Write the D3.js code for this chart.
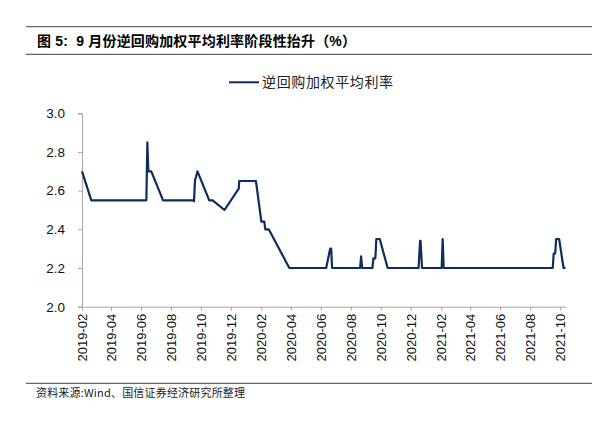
<!DOCTYPE html>
<html>
<head>
<meta charset="utf-8">
<script src="https://cdn.jsdelivr.net/npm/d3@7"></script>
<style>
  html, body { margin: 0; padding: 0; background: #fff; }
  svg { display: block; }
</style>
</head>
<body>
<svg id="chart" width="608" height="422"></svg>
<script>
const titleText = "图 5:  9 月份逆回购加权平均利率阶段性抬升（%）";
const seriesName = "逆回购加权平均利率";
const sourceText = "资料来源:Wind、国信证券经济研究所整理";

const dates = [
  "2019-02-01","2019-02-20","2019-06-12","2019-06-14","2019-06-16","2019-06-22",
  "2019-07-16","2019-09-15","2019-09-17","2019-09-19","2019-09-21","2019-09-24",
  "2019-10-18","2019-10-25","2019-11-18","2019-12-17","2019-12-18","2020-01-21",
  "2020-02-01","2020-02-07","2020-02-09","2020-02-16","2020-03-29","2020-06-12",
  "2020-06-20","2020-06-22","2020-06-24","2020-08-20","2020-08-22","2020-08-24",
  "2020-09-14","2020-09-16","2020-09-20","2020-09-22","2020-09-29","2020-10-15",
  "2020-12-17","2020-12-20","2020-12-21","2020-12-24","2021-02-02","2021-02-04",
  "2021-02-06","2021-09-16","2021-09-18","2021-09-21","2021-09-23","2021-09-29",
  "2021-10-08","2021-10-12"
];
const rates = [
  2.70,2.55,2.55,2.85,2.70,2.70,
  2.55,2.55,2.545,2.655,2.67,2.70,
  2.55,2.55,2.50,2.61,2.65,2.65,
  2.44,2.44,2.40,2.40,2.20,2.20,
  2.30,2.30,2.20,2.20,2.26,2.20,
  2.20,2.25,2.25,2.35,2.35,2.20,
  2.20,2.34,2.34,2.20,2.20,2.35,
  2.20,2.20,2.275,2.275,2.35,2.35,
  2.20,2.20
];
const yTicks = [2.0, 2.2, 2.4, 2.6, 2.8, 3.0];
const xTickLabels = ["2019-02","2019-04","2019-06","2019-08","2019-10","2019-12",
  "2020-02","2020-04","2020-06","2020-08","2020-10","2020-12",
  "2021-02","2021-04","2021-06","2021-08","2021-10"];

const parse = d3.timeParse("%Y-%m-%d");
const parseM = d3.timeParse("%Y-%m");
const data = dates.map((d, i) => ({ date: parse(d), value: rates[i] }));

const svg = d3.select("#chart");
const cjk = "'Liberation Sans', 'Noto Sans CJK SC', sans-serif";
const ruleColor = "#666";
const axisColor = "#a6a6a6";
const lineColor = "#0c2d5d";

// header rules
[26.7, 54.3, 383.3].forEach(y => {
  svg.append("line").attr("x1", 26).attr("x2", 592).attr("y1", y).attr("y2", y)
    .attr("stroke", ruleColor).attr("stroke-width", 1.3);
});

svg.append("text").attr("x", 37).attr("y", 45.5)
  .style("white-space", "pre")
  .attr("font-family", cjk).attr("font-weight", "bold").attr("font-size", 14)
  .attr("textLength", 319).attr("lengthAdjust", "spacing")
  .attr("fill", "#000").text(titleText);

// legend
svg.append("line").attr("x1", 229).attr("x2", 259).attr("y1", 82.3).attr("y2", 82.3)
  .attr("stroke", lineColor).attr("stroke-width", 2);
svg.append("text").attr("x", 262).attr("y", 87.3)
  .attr("font-family", "'Noto Sans CJK SC', sans-serif").attr("font-size", 14)
  .attr("textLength", 131).attr("lengthAdjust", "spacing")
  .attr("fill", "#222").text(seriesName);

// scales
const x = d3.scaleTime()
  .domain([parse("2019-02-01"), parse("2021-10-13")])
  .range([82, 566]);
const y = d3.scaleLinear().domain([2.0, 3.0]).range([306.7, 113.3]);

// y axis
const yAxis = svg.append("g").attr("transform", "translate(82,0)")
  .call(d3.axisLeft(y).tickValues(yTicks).tickFormat(d3.format(".1f")).tickSize(4).tickPadding(13));
yAxis.select(".domain").attr("stroke", axisColor);
yAxis.selectAll(".tick line").attr("stroke", axisColor);
yAxis.selectAll(".tick text").attr("font-family", "'Liberation Sans', Arial, sans-serif")
  .attr("font-size", 13.5).attr("fill", "#111");

// x axis
const xAxis = svg.append("g").attr("transform", "translate(0,306.7)")
  .call(d3.axisBottom(x).tickValues(xTickLabels.map(parseM)).tickFormat(d3.timeFormat("%Y-%m")).tickSize(4).tickSizeOuter(0));
xAxis.select(".domain").attr("stroke", axisColor);
xAxis.selectAll(".tick line").attr("stroke", axisColor);
xAxis.selectAll(".tick text")
  .attr("font-family", "'Liberation Sans', Arial, sans-serif")
  .attr("font-size", 13).attr("fill", "#111")
  .attr("text-anchor", "end")
  .attr("transform", "rotate(-90)")
  .attr("x", -7).attr("y", 0).attr("dy", "0.35em");

// line
const line = d3.line().x(d => x(d.date)).y(d => y(d.value));
svg.append("path").datum(data).attr("d", line)
  .attr("fill", "none").attr("stroke", lineColor).attr("stroke-width", 2.2)
  .attr("stroke-linejoin", "round");

// source
svg.append("text").attr("x", 36).attr("y", 397)
  .attr("font-family", "'Noto Sans CJK SC', sans-serif").attr("font-size", 11)
  .attr("textLength", 209).attr("lengthAdjust", "spacing")
  .attr("fill", "#222").text(sourceText);
</script>
</body>
</html>
